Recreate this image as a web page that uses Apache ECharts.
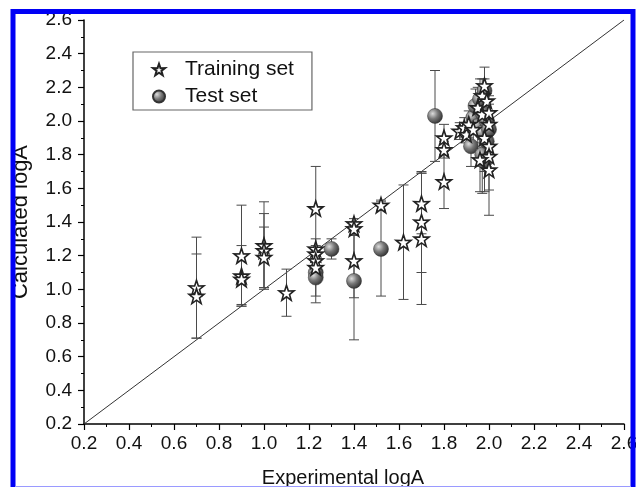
<!DOCTYPE html>
<html>
<head>
<meta charset="utf-8">
<script src="https://cdn.jsdelivr.net/npm/echarts@6/dist/echarts.min.js"></script>
<style>
  html, body { margin: 0; padding: 0; background: #fff; }
  #chart { width: 636px; height: 487px; }
</style>
</head>
<body>
<div id="chart"></div>
<script>
// training set: experimental, calculated, error
var trainX = [0.70, 0.70, 0.90, 0.90, 0.90, 1.00, 1.00, 1.00, 1.10, 1.23, 1.23, 1.23, 1.23, 1.23,
  1.40, 1.40, 1.40, 1.52, 1.62, 1.70, 1.70, 1.70, 1.80, 1.80, 1.80,
  1.87, 1.89, 1.90, 1.91, 1.93, 1.95, 1.97, 1.97, 1.98, 1.98, 1.99, 2.00, 2.00, 2.00, 2.00, 2.00, 1.96];
var trainY = [1.01, 0.96, 1.20, 1.08, 1.06, 1.26, 1.23, 1.19, 0.98, 1.48, 1.24, 1.21, 1.17, 1.13,
  1.39, 1.36, 1.17, 1.50, 1.28, 1.51, 1.40, 1.30, 1.90, 1.83, 1.64,
  1.94, 1.96, 1.92, 1.98, 1.95, 2.08, 2.15, 2.04, 2.21, 1.90, 2.12, 2.05, 1.98, 1.85, 1.79, 1.71, 1.77];
var trainErr = [0.30, 0.25, 0.30, 0.18, 0.15, 0.26, 0.22, 0.18, 0.14, 0.25, 0.06, 0.05, 0.05, 0.04,
  0.03, 0.04, 0.22, 0.03, 0.34, 0.18, 0.30, 0.39, 0.08, 0.05, 0.16,
  0.05, 0.06, 0.05, 0.08, 0.10, 0.12, 0.10, 0.15, 0.04, 0.20, 0.10, 0.10, 0.12, 0.15, 0.20, 0.27, 0.19];

// test set
var testX = [1.23, 1.23, 1.30, 1.40, 1.52, 1.76, 1.92, 1.93, 1.94, 1.95, 1.96, 1.97, 1.97, 1.97, 1.98, 1.98, 1.99, 1.99, 2.00];
var testY = [1.10, 1.07, 1.24, 1.05, 1.24, 2.03, 1.85, 2.02, 2.09, 1.97, 2.13, 1.93, 2.05, 1.80, 1.76, 2.18, 1.88, 2.00, 1.95];
var testErr = [0.14, 0.15, 0.06, 0.35, 0.28, 0.27, 0.12, 0.08, 0.10, 0.10, 0.12, 0.20, 0.15, 0.23, 0.18, 0.14, 0.15, 0.12, 0.10];

var identityLine = [0.2, 2.6];
var axisMin = 0.2, axisMax = 2.6, axisStep = 0.2;

var starPath = 'path://M50,0 L61.8,35.1 L97.6,34.5 L69.1,56.7 L79.4,91 L50,70.5 L20.6,91 L30.9,56.7 L2.4,34.5 L38.2,35.1 Z';
var font = '"Liberation Sans", Arial, sans-serif';

function pts(xs, ys) {
  return xs.map(function (x, i) { return [x, ys[i]]; });
}
function errs(xs, ys, es) {
  return xs.map(function (x, i) { return [x, ys[i] - es[i], ys[i] + es[i]]; });
}

function renderErr(params, api) {
  var x = api.value(0);
  var lo = api.coord([x, api.value(1)]);
  var hi = api.coord([x, api.value(2)]);
  var w = 5;
  var st = { stroke: '#4a4a4a', lineWidth: 1 };
  return {
    type: 'group',
    children: [
      { type: 'line', shape: { x1: lo[0], y1: lo[1], x2: hi[0], y2: hi[1] }, style: st },
      { type: 'line', shape: { x1: lo[0] - w, y1: lo[1], x2: lo[0] + w, y2: lo[1] }, style: st },
      { type: 'line', shape: { x1: hi[0] - w, y1: hi[1], x2: hi[0] + w, y2: hi[1] }, style: st }
    ]
  };
}

var ballColor = {
  type: 'radial', x: 0.35, y: 0.35, r: 0.75,
  colorStops: [
    { offset: 0, color: '#dcdcdc' },
    { offset: 0.45, color: '#787878' },
    { offset: 1, color: '#262626' }
  ]
};

var axisCommon = {
  type: 'value',
  min: axisMin,
  max: axisMax,
  interval: axisStep,
  splitLine: { show: false },
  axisLine: { show: true, onZero: false, lineStyle: { color: '#000', width: 1.5 } },
  axisTick: { show: true, inside: false, length: 6, lineStyle: { color: '#000', width: 1.2 } },
  minorTick: { show: true, splitNumber: 2, length: 3, lineStyle: { color: '#000', width: 1 } },
  axisLabel: {
    fontSize: 19, color: '#111', fontFamily: font,
    formatter: function (v) { return v.toFixed(1); }
  },
  nameLocation: 'middle'
};

var chart = echarts.init(document.getElementById('chart'));
chart.setOption({
  animation: false,
  backgroundColor: '#fff',
  grid: { left: 84, right: 12, top: 20, bottom: 63, outerBoundsMode: 'none' },
  xAxis: Object.assign({}, axisCommon, {
    name: 'Experimental logA', nameGap: 44,
    nameTextStyle: { fontSize: 20, color: '#111', fontFamily: font, padding: [0, 22, 0, 0] },
    axisLabel: Object.assign({}, axisCommon.axisLabel, { margin: 10 })
  }),
  yAxis: Object.assign({}, axisCommon, {
    name: 'Calculated logA', nameGap: 52,
    nameTextStyle: { fontSize: 22, color: '#111', fontFamily: font },
    axisLabel: Object.assign({}, axisCommon.axisLabel, { margin: 12 })
  }),
  legend: {
    orient: 'vertical',
    left: 133,
    top: 52,
    padding: [7, 18, 3, 19],
    itemWidth: 12,
    itemHeight: 12,
    itemGap: 6,
    borderColor: '#666',
    borderWidth: 1.2,
    textStyle: { fontSize: 21, color: '#111', fontFamily: font, padding: [0, 0, 0, 15] },
    data: [
      { name: 'Training set', icon: starPath },
      { name: 'Test set', icon: 'circle' }
    ]
  },
  series: [
    {
      type: 'line',
      data: pts(identityLine, identityLine),
      symbol: 'none',
      lineStyle: { color: '#333', width: 1 },
      z: 1,
      silent: true
    },
    {
      type: 'custom',
      name: 'trainErr',
      renderItem: renderErr,
      encode: { x: 0, y: [1, 2] },
      data: errs(trainX, trainY, trainErr),
      z: 2
    },
    {
      type: 'custom',
      name: 'testErr',
      renderItem: renderErr,
      encode: { x: 0, y: [1, 2] },
      data: errs(testX, testY, testErr),
      z: 2
    },
    {
      type: 'scatter',
      name: 'Test set',
      data: pts(testX, testY),
      symbol: 'circle',
      symbolSize: 15,
      itemStyle: { color: ballColor, borderColor: '#333', borderWidth: 0.5, opacity: 1 },
      z: 3
    },
    {
      type: 'scatter',
      name: 'Training set',
      data: pts(trainX, trainY),
      symbol: starPath,
      symbolSize: 15,
      itemStyle: { color: '#fff', borderColor: '#222', borderWidth: 1.6, opacity: 1 },
      z: 4
    }
  ],
  graphic: [
    {
      type: 'rect', z: 100, silent: true,
      shape: { x: 13, y: 11.5, width: 620, height: 500 },
      style: { fill: null, stroke: '#0000f5', lineWidth: 5 }
    },
    {
      type: 'line', z: 101, silent: true,
      shape: { x1: 15, y1: 486.5, x2: 631, y2: 486.5 },
      style: { stroke: '#9a9aff', lineWidth: 1 }
    }
  ]
});
</script>
</body>
</html>
